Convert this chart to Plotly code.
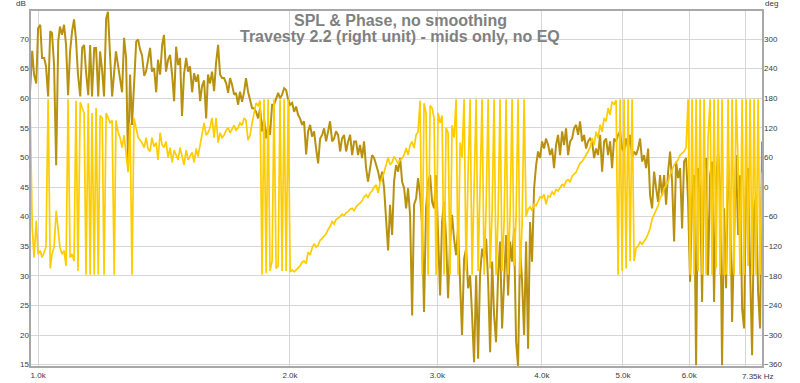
import math
import plotly.graph_objects as go

# Frequency points (Hz) shared by both traces
freq_hz = [
    978, 984, 989, 995, 1000, 1006, 1011, 1017, 1022, 1028,
    1034, 1039, 1045, 1051, 1057, 1062, 1068, 1074, 1080, 1086,
    1092, 1098, 1104, 1110, 1116, 1123, 1129, 1135, 1141, 1148,
    1154, 1160, 1167, 1173, 1180, 1186, 1193, 1199, 1206, 1212,
    1219, 1226, 1233, 1239, 1246, 1253, 1260, 1267, 1274, 1281,
    1288, 1295, 1302, 1310, 1317, 1324, 1331, 1339, 1346, 1353,
    1361, 1368, 1376, 1384, 1391, 1399, 1407, 1414, 1422, 1430,
    1438, 1446, 1454, 1462, 1470, 1478, 1486, 1494, 1503, 1511,
    1519, 1528, 1536, 1545, 1553, 1562, 1570, 1579, 1588, 1596,
    1605, 1614, 1623, 1632, 1641, 1650, 1659, 1668, 1678, 1687,
    1696, 1705, 1715, 1724, 1734, 1743, 1753, 1763, 1772, 1782,
    1792, 1802, 1812, 1822, 1832, 1842, 1852, 1862, 1873, 1883,
    1893, 1904, 1914, 1925, 1936, 1946, 1957, 1968, 1979, 1990,
    2001, 2012, 2023, 2034, 2045, 2056, 2068, 2079, 2091, 2102,
    2114, 2125, 2137, 2149, 2161, 2173, 2185, 2197, 2209, 2221,
    2233, 2246, 2258, 2270, 2283, 2296, 2308, 2321, 2334, 2347,
    2360, 2373, 2386, 2399, 2412, 2425, 2439, 2452, 2466, 2479,
    2493, 2507, 2521, 2535, 2549, 2563, 2577, 2591, 2605, 2620,
    2634, 2649, 2663, 2678, 2693, 2708, 2723, 2738, 2753, 2768,
    2783, 2799, 2814, 2830, 2845, 2861, 2877, 2892, 2908, 2925,
    2941, 2957, 2973, 2990, 3006, 3023, 3039, 3056, 3073, 3090,
    3107, 3124, 3141, 3159, 3176, 3194, 3211, 3229, 3247, 3265,
    3283, 3301, 3319, 3338, 3356, 3374, 3393, 3412, 3431, 3450,
    3469, 3488, 3507, 3526, 3546, 3565, 3585, 3605, 3625, 3645,
    3665, 3685, 3705, 3726, 3746, 3767, 3788, 3809, 3830, 3851,
    3872, 3893, 3915, 3937, 3958, 3980, 4002, 4024, 4046, 4069,
    4091, 4114, 4136, 4159, 4182, 4205, 4229, 4252, 4275, 4299,
    4323, 4347, 4370, 4395, 4419, 4443, 4468, 4492, 4517, 4542,
    4567, 4592, 4618, 4643, 4669, 4695, 4721, 4747, 4773, 4799,
    4826, 4852, 4879, 4906, 4933, 4960, 4988, 5015, 5043, 5071,
    5099, 5127, 5155, 5184, 5212, 5241, 5270, 5299, 5328, 5358,
    5387, 5417, 5447, 5477, 5507, 5537, 5568, 5599, 5630, 5661,
    5692, 5723, 5755, 5787, 5819, 5851, 5883, 5915, 5948, 5981,
    6014, 6047, 6080, 6114, 6148, 6182, 6216, 6250, 6285, 6319,
    6354, 6389, 6424, 6460, 6496, 6531, 6567, 6604, 6640, 6677,
    6714, 6751, 6788, 6825, 6863, 6901, 6939, 6977, 7016, 7054,
    7093, 7133, 7172, 7211, 7251, 7291, 7331,
]

# SPL (dB), left axis
spl_db = [
    61.0, 68.0, 64.0, 62.5, 71.8, 72.4, 66.8, 66.8, 65.4, 60.3,
    71.3, 71.0, 65.6, 48.7, 69.6, 72.1, 70.7, 72.4, 69.0, 60.5,
    67.9, 71.3, 73.3, 69.9, 64.0, 60.3, 68.5, 69.0, 64.5, 60.5,
    69.0, 60.3, 68.5, 68.5, 60.3, 67.9, 64.5, 60.3, 73.5, 74.6,
    67.3, 60.3, 64.5, 67.9, 65.6, 62.8, 61.0, 70.2, 66.8, 48.5,
    64.0, 55.5, 62.3, 69.6, 69.9, 68.2, 67.3, 63.8, 64.5, 66.8,
    68.5, 64.5, 65.1, 61.0, 66.5, 64.0, 69.0, 70.7, 64.5, 66.5,
    67.3, 64.0, 59.5, 68.7, 65.6, 66.8, 57.0, 64.0, 66.8, 64.5,
    65.4, 61.0, 64.2, 62.8, 64.0, 59.5, 62.0, 63.0, 56.6, 64.0,
    62.5, 64.5, 61.2, 66.0, 69.0, 64.0, 63.4, 63.4, 62.5, 60.9,
    63.4, 62.3, 60.6, 60.9, 58.9, 61.1, 59.4, 61.1, 63.4, 61.1,
    59.4, 58.3, 58.3, 57.7, 56.6, 58.3, 54.4, 56.6, 53.2, 55.5,
    53.8, 58.9, 58.9, 60.0, 60.9, 60.0, 60.6, 61.7, 61.4, 59.7,
    58.9, 59.2, 57.7, 58.6, 57.2, 56.6, 55.5, 56.1, 50.5, 54.4,
    55.5, 53.5, 54.4, 51.5, 49.0, 53.2, 53.8, 54.9, 52.7, 54.4,
    56.1, 52.7, 53.2, 54.4, 53.8, 51.0, 53.2, 53.8, 51.0, 52.7,
    53.8, 50.4, 52.7, 52.7, 50.4, 52.1, 49.9, 52.7, 48.2, 45.9,
    48.2, 50.4, 49.9, 48.7, 47.6, 45.9, 47.6, 44.8, 38.6, 34.3,
    42.0, 36.9, 45.9, 48.7, 47.6, 49.9, 45.9, 44.8, 41.4, 44.8,
    40.3, 23.3, 42.0, 43.1, 46.5, 43.6, 38.6, 23.9, 41.4, 45.9,
    47.0, 42.5, 41.4, 47.0, 36.9, 26.7, 39.1, 42.5, 36.3, 26.2,
    35.8, 40.3, 36.3, 33.5, 38.0, 30.1, 20.0, 32.9, 34.6, 27.9,
    30.1, 23.3, 15.4, 30.1, 16.0, 30.1, 34.6, 32.9, 36.3, 29.0,
    17.1, 32.4, 23.3, 18.8, 30.1, 35.8, 21.1, 29.0, 36.9, 26.7,
    35.8, 32.4, 38.0, 18.8, 14.8, 34.6, 29.0, 20.0, 35.8, 17.7,
    39.1, 32.4, 44.8, 48.7, 51.0, 49.9, 52.7, 51.5, 53.2, 52.1,
    50.4, 51.5, 48.2, 52.1, 53.8, 50.4, 54.4, 52.1, 54.9, 50.4,
    52.7, 53.2, 54.9, 55.5, 53.8, 56.1, 52.7, 53.8, 51.5, 52.7,
    53.2, 52.7, 49.9, 51.5, 50.4, 53.8, 47.6, 52.7, 53.2, 50.4,
    52.7, 48.2, 53.2, 52.7, 53.8, 54.4, 51.5, 51.0, 53.2, 51.5,
    53.8, 49.9, 51.0, 50.4, 51.5, 53.2, 49.3, 50.4, 48.2, 51.5,
    43.6, 41.4, 47.6, 44.8, 42.5, 47.0, 43.6, 47.0, 42.0, 47.6,
    51.0, 45.9, 35.8, 49.3, 46.5, 48.2, 38.0, 49.3, 49.9, 42.5,
    29.0, 43.6, 47.0, 14.9, 48.2, 44.8, 25.6, 48.2, 49.9, 30.1,
    47.0, 49.3, 25.6, 45.9, 51.0, 44.8, 14.9, 41.4, 27.9, 49.9,
    41.4, 22.2, 35.8, 50.4, 36.9, 47.0, 24.5, 21.1, 45.9, 48.2,
    31.3, 16.6, 41.4, 43.6, 27.3, 21.1, 52.7,
]

# Phase (deg, wrapped to +/-180), right axis
phase_deg = [
    178, -82, -143, -68, -136, -129, -143, -129, -122, 178,
    -165, -136, -122, -48, -95, -122, -136, -129, -160, 178,
    -143, -136, -150, 175, -170, 172, 160, 150, -178, 170,
    -178, 150, -178, 160, -178, 145, 140, -178, 150, 140,
    130, 135, -178, 135, 112, 100, 80, 105, 70, 30,
    130, -178, 140, 120, 100, 95, 90, 80, 100, 78,
    72, 100, 82, 90, 55, 110, 85, 80, 92, 60,
    80, 50, 75, 65, 55, 80, 60, 45, 75, 55,
    62, 70, 50, 78, 62, 85, 100, 130, 105, 110,
    120, 140, 100, 140, 90, 110, 100, 105, 115, 120,
    110, 118, 125, 115, 120, 130, 125, 140, 135, 95,
    105, 130, 150, 170, 165, 175, -178, 178, -175, 178,
    -170, -150, 178, -165, -160, 178, -170, 178, -170, 178,
    -172, -168, -172, -168, -165, -160, -152, -150, -155, -132,
    -138, -124, -115, -122, -118, -108, -104, -100, -95, -86,
    -80, -70, -75, -66, -63, -60, -55, -58, -52, -50,
    -45, -43, -48, -40, -36, -33, -28, -20, -16, -22,
    -12, -8, 0, 4, -12, 10, 18, 30, 45, 60,
    45, 50, 62, 55, 48, 55, 58, 65, 79, 65,
    85, 92, 79, 106, 112, 175, -178, 170, 150, -178,
    165, 160, 140, -178, 150, 130, 145, -178, 120, 110,
    -178, 125, 100, 178, -178, 90, 60, 178, -170, 30,
    178, -178, 0, 178, -170, -20, 178, -178, -40, 178,
    -165, -50, 178, -178, -60, 178, -170, -70, 178, -178,
    -55, 178, -160, -60, 178, -178, -75, 178, -60, -45,
    -40, -48, -35, -38, -30, -20, -22, -15, -35, -18,
    -20, -10, -15, -5, -8, 0, 5, 2, 12, 15,
    10, 22, 25, 30, 40, 48, 52, 60, 65, 72,
    80, 99, 85, 112, 99, 126, 112, 140, 133, 160,
    146, 173, 167, 176, -178, 178, -170, 178, -165, 178,
    -150, 178, -150, -124, -120, -111, -116, -110, -104, -95,
    -84, -65, -57, -48, -38, -23, -15, -3, 5, 11,
    24, 35, 45, 50, 55, 65, 68, 72, 80, 178,
    -178, 178, -178, 178, -170, 178, -178, 178, -178, 100,
    178, -178, 178, -165, 178, -178, 178, -178, -175, 178,
    -178, 178, -178, 178, 50, -178, 178, -178, 178, -160,
    178, -178, 178, -178, 178, -178, 30,
]

x_tick_vals = [1000, 2000, 3000, 4000, 5000, 6000, 7000]
x_tick_text = ["1.0k", "2.0k", "3.0k", "4.0k", "5.0k", "6.0k", ""]
db_ticks = [15, 20, 25, 30, 35, 40, 45, 50, 55, 60, 65, 70]
deg_ticks = [-360, -300, -240, -180, -120, -60, 0, 60, 120, 180, 240, 300]

x_min_hz, x_max_hz = 978, 7350
db_range = [14.6, 74.9]
deg_range = [(db_range[0] - 45) * 12, (db_range[1] - 45) * 12]

n = min(len(freq_hz), len(spl_db), len(phase_deg))

SPL_COLOR = "#b8920f"
PHASE_COLOR = "#ffcc00"
GRID = "#d6d6d6"
TICKFONT = dict(family="Liberation Sans, Arial, sans-serif", size=8, color="#3a3a3a")

fig = go.Figure()
fig.add_trace(go.Scatter(x=freq_hz[:n], y=spl_db[:n], mode="lines",
                         line=dict(color=SPL_COLOR, width=2), name="SPL", yaxis="y"))
fig.add_trace(go.Scatter(x=freq_hz[:n], y=phase_deg[:n], mode="lines",
                         line=dict(color=PHASE_COLOR, width=1.7), name="Phase", yaxis="y2"))

fig.update_layout(
    width=800, height=383,
    margin=dict(l=30, r=37, t=10, b=16, autoexpand=False),
    paper_bgcolor="white", plot_bgcolor="white",
    showlegend=False,
    font=dict(family="Liberation Sans, Arial, sans-serif"),
    xaxis=dict(type="log", range=[math.log10(x_min_hz), math.log10(x_max_hz)],
               tickvals=x_tick_vals, ticktext=x_tick_text, showgrid=True,
               gridcolor=GRID, gridwidth=1, zeroline=False, showline=False,
               ticks="", tickfont=TICKFONT, automargin=False, ticklabelstandoff=2),
    yaxis=dict(range=db_range, tickvals=db_ticks, showgrid=True, gridcolor=GRID,
               gridwidth=1, zeroline=False, showline=False, ticks="", tickfont=TICKFONT,
               automargin=False),
    yaxis2=dict(range=deg_range, tickvals=deg_ticks, overlaying="y", side="right",
                showgrid=False, zeroline=False, showline=False, ticks="", tickfont=TICKFONT,
                automargin=False),
    shapes=[dict(type="rect", xref="paper", yref="paper", x0=0, x1=1, y0=0, y1=1,
                 line=dict(color="#a8a8a8", width=2), layer="above")],
)

title_x = (400 - 30) / 733
fig.add_annotation(text="<b>SPL &amp; Phase, no smoothing</b>", xref="paper", yref="paper",
                   x=title_x, y=1 - 10 / 357, xanchor="center", yanchor="middle",
                   showarrow=False, font=dict(size=16, color="#808080"))
fig.add_annotation(text="<b>Travesty 2.2 (right unit) - mids only, no EQ</b>", xref="paper", yref="paper",
                   x=title_x, y=1 - 27 / 357, xanchor="center", yanchor="middle",
                   showarrow=False, font=dict(size=16, color="#808080"))
fig.add_annotation(text="dB", xref="paper", yref="paper", x=0, y=1, xanchor="right",
                   yanchor="bottom", xshift=-2, showarrow=False, font=TICKFONT)
fig.add_annotation(text="deg", xref="paper", yref="paper", x=1, y=1, xanchor="left",
                   yanchor="bottom", xshift=0, showarrow=False, font=TICKFONT)
fig.add_annotation(text="7.35k Hz", xref="paper", yref="paper", x=1, y=0, xanchor="right",
                   yanchor="top", xshift=13, yshift=-3, showarrow=False, font=TICKFONT)

fig.write_html(
    "out.html",
    config={"displayModeBar": False},
    post_script="document.body.style.margin='0px';document.body.style.padding='0px';"
                "document.documentElement.style.overflow='hidden';",
)
